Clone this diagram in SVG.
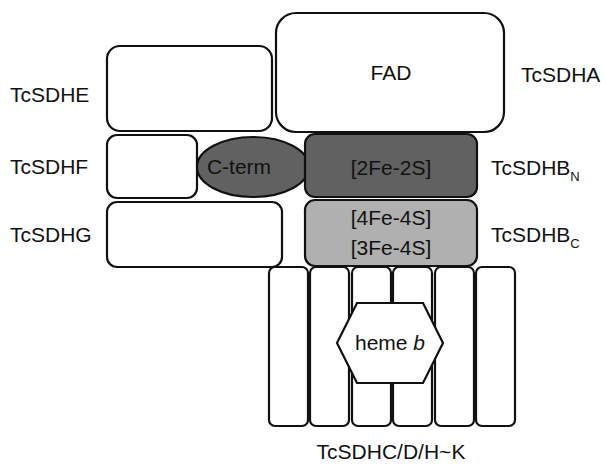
<svg xmlns="http://www.w3.org/2000/svg" width="606" height="466" viewBox="0 0 606 466">
<style>
.box{fill:#fff;stroke:#111;stroke-width:2.2}
.lbl{font-family:"Liberation Sans",Arial,sans-serif;font-size:21px;fill:#111}
.in{font-family:"Liberation Sans",Arial,sans-serif;font-size:21px;fill:#111;text-anchor:middle}
.dark{fill:#616161;stroke:#111;stroke-width:2.2}
.light{fill:#b0b0b0;stroke:#111;stroke-width:2.2}
</style>
<g id="TcSDHA">
<rect class="box" x="276" y="13" width="228" height="119" rx="20"/>
<text class="in" x="391" y="80">FAD</text>
<text class="lbl" x="521" y="82">TcSDHA</text>
</g>
<g id="TcSDHE">
<rect class="box" x="107" y="46" width="165" height="85" rx="13"/>
<text class="lbl" x="10" y="102">TcSDHE</text>
</g>
<g id="TcSDHF">
<rect class="box" x="107" y="135" width="90" height="63" rx="10"/>
<text class="lbl" x="10" y="174">TcSDHF</text>
</g>
<g id="TcSDHG">
<rect class="box" x="107" y="202" width="175" height="65" rx="10"/>
<text class="lbl" x="10" y="242">TcSDHG</text>
</g>
<g id="TcSDHBN">
<ellipse class="dark" cx="253" cy="167" rx="56" ry="30"/>
<text class="in" x="239" y="174">C-term</text>
<rect class="dark" x="305" y="134" width="172" height="63" rx="10"/>
<text class="in" x="391" y="175">[2Fe-2S]</text>
<text class="lbl" x="491" y="175">TcSDHB<tspan font-size="13" dy="6">N</tspan></text>
</g>
<g id="TcSDHBC">
<rect class="light" x="305" y="200" width="172" height="66" rx="10"/>
<text class="in" x="391" y="225">[4Fe-4S]</text>
<text class="in" x="391" y="255">[3Fe-4S]</text>
<text class="lbl" x="491" y="242">TcSDHB<tspan font-size="13" dy="6">C</tspan></text>
</g>
<g id="TcSDHC">
<rect class="box" x="269" y="267" width="39" height="159" rx="6"/>
<rect class="box" x="310" y="267" width="39" height="159" rx="6"/>
<rect class="box" x="352" y="267" width="39" height="159" rx="6"/>
<rect class="box" x="393" y="267" width="39" height="159" rx="6"/>
<rect class="box" x="435" y="267" width="39" height="159" rx="6"/>
<rect class="box" x="476" y="267" width="39" height="159" rx="6"/>
<polygon class="box" points="337,343 357,303 423,303 443,343 423,383 357,383"/>
<text class="in" x="390" y="350">heme <tspan font-style="italic">b</tspan></text>
<text class="in" x="391" y="459">TcSDHC/D/H~K</text>
</g>
<g id="connectors"/>
</svg>
